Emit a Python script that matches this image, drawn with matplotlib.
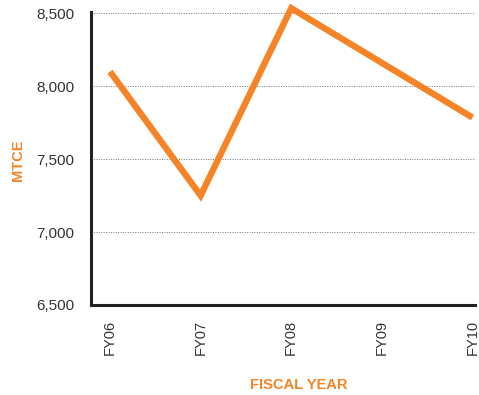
import matplotlib
matplotlib.use("Agg")
import matplotlib.pyplot as plt

years = ["FY06", "FY07", "FY08", "FY09", "FY10"]
mtce = [8100, 7250, 8535, 8160, 7785]
yticks = [6500, 7000, 7500, 8000, 8500]

orange = "#F58426"
text_col = "#333333"

plt.rcParams['font.family'] = ['Liberation Sans', 'DejaVu Sans']

fig = plt.figure(figsize=(4.79, 3.95), dpi=100)
ax = fig.add_axes([0.19, 0.228, 0.802, 0.742])

x = range(len(years))
ax.plot(x, mtce, color=orange, linewidth=4.6, solid_joinstyle="miter",
        solid_capstyle="butt", clip_on=False, zorder=3)

ax.set_xlim(-0.21, 4.03)
ax.set_ylim(6500, 8510)
ax.set_yticks(yticks)
ax.set_yticklabels([f"{v:,}" for v in yticks], fontsize=11, color=text_col)
ax.set_xticks(list(x))
ax.set_xticklabels(years, rotation=90, fontsize=10.5, color=text_col, va="top")
ax.tick_params(axis="both", length=0)
ax.tick_params(axis="x", pad=11)
ax.tick_params(axis="y", pad=12)

ax.grid(axis="y", linestyle=(0, (1, 1.5)), color="#777777", linewidth=0.7)
ax.set_axisbelow(True)

for s in ["top", "right"]:
    ax.spines[s].set_visible(False)
for s in ["left", "bottom"]:
    ax.spines[s].set_linewidth(2.2)
    ax.spines[s].set_color("#222222")

fig.text(0.038, 0.595, "MTCE", rotation=90, color=orange, fontsize=10.5,
         fontweight="bold", ha="center", va="center")
fig.text(0.624, 0.008, "FISCAL YEAR", color=orange, fontsize=10.5,
         fontweight="bold", ha="center", va="bottom")

plt.savefig("out.png", dpi=100)
